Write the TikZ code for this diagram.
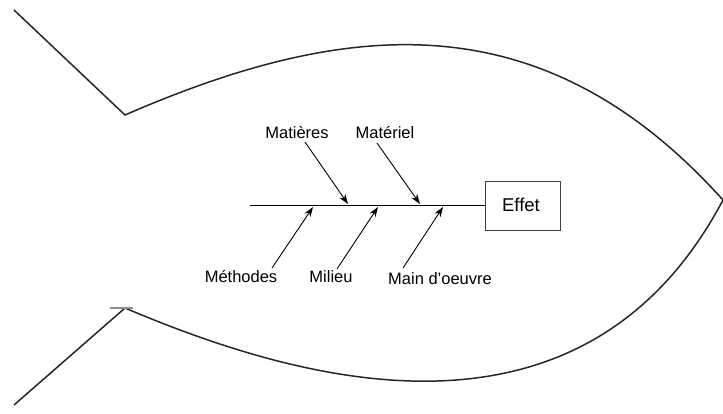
\documentclass[tikz,border=0pt]{standalone}
\usepackage{fontspec}
\setmainfont{Liberation Sans}
\usetikzlibrary{arrows.meta}
\begin{document}
\begin{tikzpicture}[x=1pt,y=-1pt,
  outline/.style={line width=1.5pt,black!85},
  bone/.style={line width=0.9pt,-{Stealth[length=10pt,width=7pt]}},
  lbl/.style={font=\fontsize{16.5}{18}\selectfont,inner sep=0pt,anchor=base},
  effetbox/.style={draw,black!75,line width=0.9pt,minimum width=75pt,minimum height=49pt}]
\useasboundingbox (0,0) rectangle (723,414);
% fish body and tail
\coordinate (tailtop) at (14,10);
\coordinate (jawtop) at (125,115);
\coordinate (jawbot) at (125,308);
\coordinate (tailbot) at (14,405);
\coordinate (nose) at (723,200);
\draw[outline] (tailtop) -- (jawtop) .. controls (348,18) and (543,0) .. (nose);
\draw[outline] (tailbot) -- (jawbot) .. controls (288,377) and (580,470) .. (nose);
\draw[line width=1.2pt,black!45] (110,308) -- (133,308);
% spine and effect box
\node[effetbox] (effet) at (522.5,205.5) {};
\node[lbl,font=\fontsize{18.5}{20}\selectfont] (effetlbl) at (521,211.5) {Effet};
\coordinate (head) at (250,205.5);
\draw[line width=0.9pt] (head) -- (effet.west);
% labels
\node[lbl] (matieres) at (297,139) {Matières};
\node[lbl] (materiel) at (385,139) {Matériel};
\node[lbl] (methodes) at (241,283) {Méthodes};
\node[lbl] (milieu) at (331,283) {Milieu};
\node[lbl] (main) at (440,284) {Main d'oeuvre};
% bone ends on the spine
\coordinate (t1) at (305,142); \coordinate (h1) at (348,204);
\coordinate (t2) at (377,143); \coordinate (h2) at (420,204);
\coordinate (t3) at (272,268); \coordinate (h3) at (313,207);
\coordinate (t4) at (337,269); \coordinate (h4) at (378,207);
\coordinate (t5) at (403,268); \coordinate (h5) at (443,207);
\draw[bone] (t1) -- (h1);
\draw[bone] (t2) -- (h2);
\draw[bone] (t3) -- (h3);
\draw[bone] (t4) -- (h4);
\draw[bone] (t5) -- (h5);
\end{tikzpicture}
\end{document}
